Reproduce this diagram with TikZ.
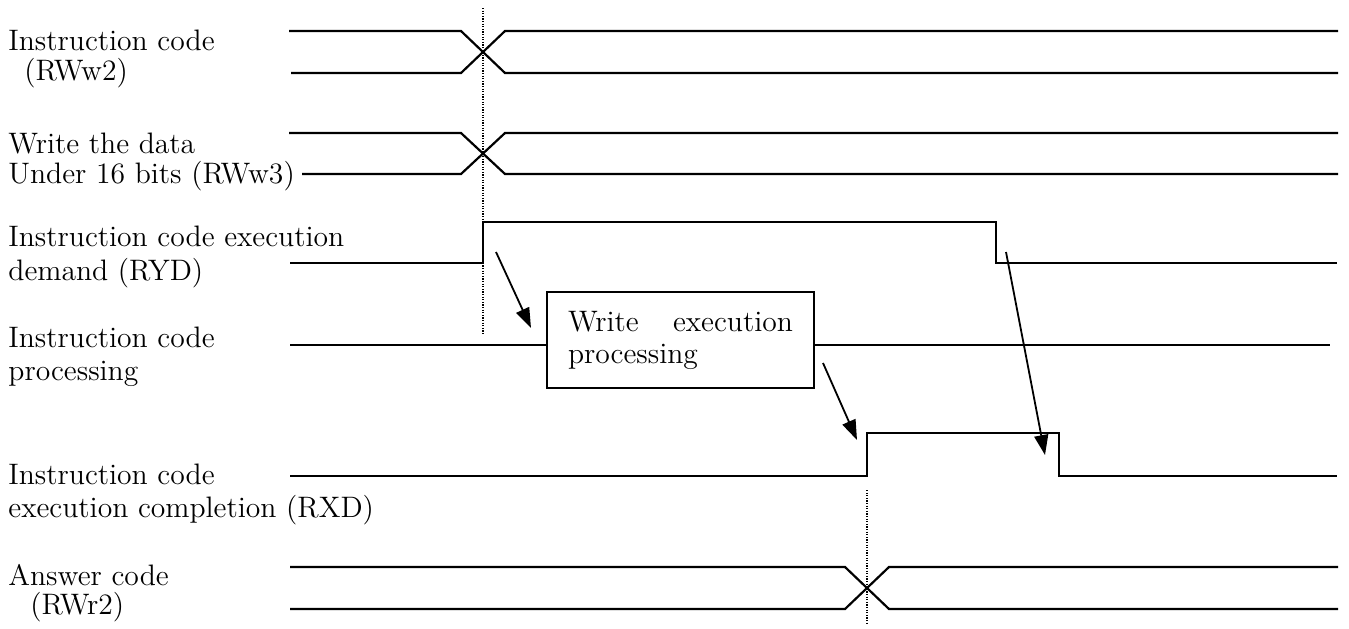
\documentclass[tikz,border=0pt]{standalone}
\usetikzlibrary{arrows.meta}
\begin{document}
\begin{tikzpicture}[x=0.5pt,y=-0.5pt,
  signal/.style={line width=1.1pt, line join=miter},
  guide/.style={line width=0.6pt, dash pattern=on 0.6pt off 0.7pt},
  cause/.style={line width=0.9pt, -{Triangle[length=10pt,width=7pt]}},
  lbl/.style={anchor=base west, inner sep=0pt, font=\fontsize{14.8}{17}\selectfont},
  procbox/.style={draw, line width=0.9pt, minimum width=133.5pt, minimum height=48pt,
    text width=112.5pt, align=justify, inner sep=0pt, font=\fontsize{14.8}{16}\selectfont},
]
\useasboundingbox (0,0) rectangle (1349,628);

% signal names
\node[lbl] (l1a) at (8,50)  {Instruction code};
\node[lbl] (l1b) at (24,80) {(RWw2)};
\node[lbl] (l2a) at (8,153) {Write the data};
\node[lbl] (l2b) at (8,183) {Under 16 bits (RWw3)};
\node[lbl] (l3a) at (8,246) {Instruction code execution};
\node[lbl] (l3b) at (8,280) {demand (RYD)};
\node[lbl] (l4a) at (8,347) {Instruction code};
\node[lbl] (l4b) at (8,380) {processing};
\node[lbl] (l5a) at (8,484) {Instruction code};
\node[lbl] (l5b) at (8,517) {execution completion (RXD)};
\node[lbl] (l6a) at (8,585) {Answer code};
\node[lbl] (l6b) at (30,614) {(RWr2)};

% timing guides
\draw[guide] (483,8) -- (483,335);
\draw[guide] (867,490) -- (867,625);

% RWw2 bus
\draw[signal] (289,31) -- (461,31) -- (505,73) -- (1338,73);
\draw[signal] (291,73) -- (461,73) -- (505,31) -- (1338,31);
% RWw3 bus
\draw[signal] (289,133) -- (461,133) -- (505,174) -- (1338,174);
\draw[signal] (302,174) -- (461,174) -- (505,133) -- (1338,133);
% RYD
\draw[signal] (290,263) -- (483,263) -- (483,222) -- (996,222) -- (996,263) -- (1337,263);
% processing
\node[procbox] (box) at (680.5,340) {Write execution processing};
\draw[signal] (290,345) -- (box.west |- 0,345);
\draw[signal] (box.east |- 0,345) -- (1330,345);
% RXD
\draw[signal] (290,476) -- (867,476) -- (867,433) -- (1059,433) -- (1059,476) -- (1337,476);
% RWr2 bus
\draw[signal] (290,567) -- (845,567) -- (889,609) -- (1338,609);
\draw[signal] (290,609) -- (845,609) -- (889,567) -- (1338,567);

% cause and effect
\coordinate (a1s) at (496,252);
\coordinate (a1e) at (531,328);
\coordinate (a2s) at (823,363);
\coordinate (a2e) at (857,440);
\coordinate (a3s) at (1006,252);
\coordinate (a3e) at (1045,455);
\draw[cause] (a1s) -- (a1e);
\draw[cause] (a2s) -- (a2e);
\draw[cause] (a3s) -- (a3e);
\end{tikzpicture}
\end{document}
